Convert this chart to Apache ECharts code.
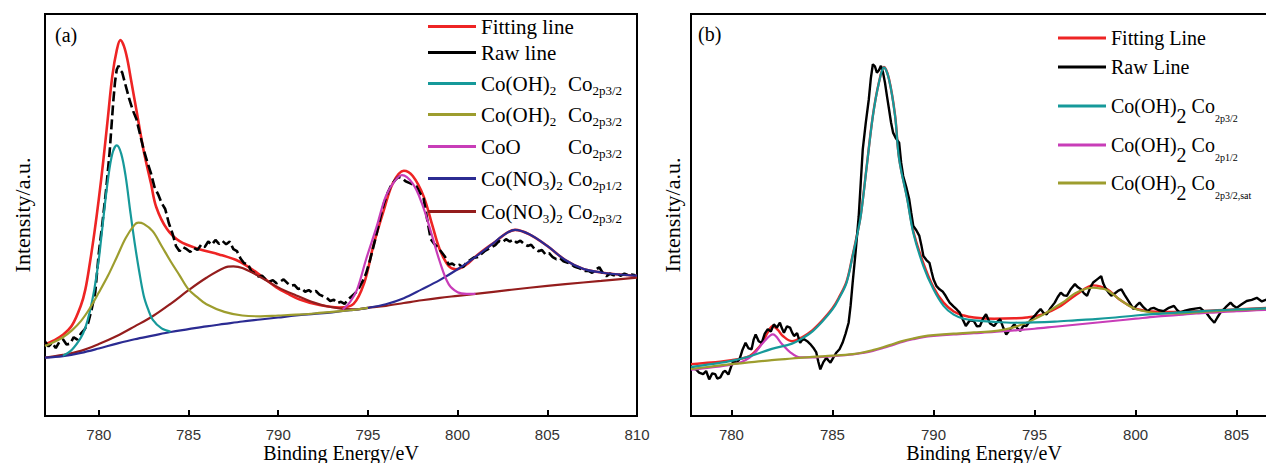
<!DOCTYPE html>
<html><head><meta charset="utf-8">
<script src="https://cdn.jsdelivr.net/npm/echarts@6.0.0/dist/echarts.min.js"></script>
<style>html,body{margin:0;padding:0;background:#fff}#c{width:1266px;height:463px}</style>
</head><body><div id="c"></div>
<script>
// ---------- tick labels ----------
const ticksA = [780, 785, 790, 795, 800, 805, 810];
const ticksB = [780, 785, 790, 795, 800, 805];

// ---------- panel (a) : [binding energy eV, intensity a.u.] ----------
const fitA = [[777,17.8],[777.5,18.8],[778,20.2],[778.5,22.5],[779,27.5],[779.25,31.5],[779.5,38.0],[779.75,45.5],[780,54.0],[780.25,63.5],[780.5,74.0],[780.75,84.5],[781,91.0],[781.2,93.5],[781.4,92.0],[781.6,88.5],[781.8,83.5],[782.1,76.0],[782.5,66.0],[782.9,58.0],[783.2,52.0],[783.8,46.5],[784.5,43.5],[785.6,41.5],[786.7,40.2],[787.8,38.5],[788.6,36.3],[789.0,35.0],[789.9,32.0],[790.5,30.5],[791.2,29.0],[792.3,27.6],[793.4,27.0],[794.2,27.9],[794.8,33.2],[795.3,42.3],[795.9,51.4],[796.4,58.0],[797.0,61.0],[797.5,59.7],[798.1,54.7],[798.6,47.3],[799.0,41.5],[799.5,37.3],[799.9,36.5],[800.5,37.7],[801.0,39.7],[802.0,43.0],[803.2,46.3],[804,45.2],[805,42.3],[806,38.8],[807,36.6],[808,35.7],[809,35.2],[810,34.9]];
const rawA = [[777.0,18.5],[777.2,17.3],[777.4,18.2],[777.6,16.9],[777.8,18.4],[778.0,19.1],[778.2,17.8],[778.4,18.0],[778.6,19.6],[778.8,19.0],[779.0,20.5],[779.2,21.5],[779.4,23.0],[779.6,26.5],[779.8,30.7],[780.0,40.6],[780.2,48.0],[780.4,56.0],[780.6,65.5],[780.8,77.9],[780.9,83.0],[781.0,86.2],[781.1,87.1],[781.2,86.0],[781.3,85.5],[781.4,83.8],[781.7,78.8],[781.9,76.0],[782.1,73.8],[782.3,70.0],[782.5,66.3],[782.7,63.2],[782.9,60.5],[783.1,57.0],[783.3,55.2],[783.5,53.0],[783.7,51.5],[783.9,48.0],[784.1,45.5],[784.3,42.3],[784.5,41.0],[784.7,42.0],[784.9,41.5],[785.1,40.8],[785.3,41.8],[785.5,41.3],[785.7,42.6],[785.9,42.0],[786.1,43.4],[786.3,42.6],[786.5,43.8],[786.7,42.8],[786.9,43.5],[787.1,42.7],[787.3,43.4],[787.5,41.5],[787.7,41.0],[787.9,39.2],[788.1,38.0],[788.3,37.9],[788.5,36.0],[788.7,35.5],[788.9,34.7],[789.1,34.9],[789.3,34.0],[789.5,33.4],[789.7,33.8],[789.9,33.0],[790.1,33.4],[790.3,34.0],[790.5,33.1],[790.7,32.4],[790.9,32.6],[791.1,31.6],[791.3,31.8],[791.5,30.9],[791.7,31.3],[791.9,30.7],[792.1,31.1],[792.3,30.2],[792.5,29.8],[792.7,29.4],[792.9,28.6],[793.1,28.9],[793.3,28.1],[793.5,28.4],[793.7,27.9],[793.9,29.0],[794.1,29.8],[794.3,30.6],[794.5,31.8],[794.7,33.5],[794.9,35.5],[795.1,38.5],[795.3,42.0],[795.5,45.6],[795.7,49.5],[795.9,53.0],[796.1,55.5],[796.3,57.4],[796.5,58.6],[796.7,59.5],[796.9,59.2],[797.1,58.4],[797.3,58.0],[797.5,57.6],[797.7,57.2],[797.9,55.5],[798.1,54.2],[798.3,49.0],[798.5,44.0],[798.7,42.8],[798.9,41.9],[799.1,40.8],[799.3,39.6],[799.5,37.7],[799.7,37.9],[799.9,37.3],[800.1,37.6],[800.3,37.0],[800.5,38.2],[800.7,38.8],[800.9,39.4],[801.1,39.5],[801.3,40.2],[801.5,41.0],[801.7,41.5],[801.9,42.0],[802.1,42.5],[802.3,43.5],[802.5,43.2],[802.7,44.0],[802.9,43.4],[803.1,43.9],[803.3,43.1],[803.5,43.6],[803.7,42.8],[803.9,42.3],[804.1,42.6],[804.3,41.5],[804.5,41.0],[804.7,41.3],[804.9,40.2],[805.1,40.5],[805.3,39.5],[805.5,39.0],[805.7,39.3],[805.9,38.5],[806.1,38.2],[806.3,37.9],[806.5,37.2],[806.7,36.9],[806.9,36.5],[807.1,36.1],[807.3,36.1],[807.5,35.6],[807.7,36.4],[807.9,37.0],[808.1,35.5],[808.3,34.8],[808.5,35.4],[808.7,35.0],[808.9,35.3],[809.1,34.9],[809.3,35.4],[809.5,35.0],[809.7,35.2],[809.9,35.0]];
const ohA1 = [[778,15.0],[778.5,16.5],[779,19.5],[779.25,22.0],[779.5,26.0],[779.75,31.5],[780,39.0],[780.25,49.0],[780.5,58.5],[780.75,65.2],[781,67.3],[781.25,65.2],[781.5,59.5],[781.75,51.0],[782,43.0],[782.25,36.0],[782.5,30.0],[782.75,26.5],[783,24.0],[783.5,21.8],[784,21.0]];
const ohA2 = [[777,17.4],[777.5,18.4],[778,19.6],[778.5,21.3],[779,23.6],[779.5,26.8],[780,30.7],[780.5,34.8],[781,39.5],[781.5,44.3],[782,47.6],[782.2,48.1],[782.5,47.8],[783,46.0],[783.5,42.3],[784,38.5],[784.5,35.0],[785,31.5],[785.5,29.5],[786,27.8],[787,25.9],[788,25.0],[789,24.8],[790,25.0],[791,25.2],[792,25.5],[793,25.9],[794,26.3],[795,26.9]];
const cooA = [[793.6,26.5],[794,28.3],[794.4,31.5],[794.9,39.0],[795.5,47.3],[796,54.7],[796.5,58.5],[796.9,59.9],[797.5,57.8],[798,53.0],[798.5,46.0],[799,38.5],[799.5,32.8],[800,30.8],[800.5,30.4],[801,30.4]];
const no3A1 = [[777,14.5],[778,14.9],[779,15.7],[780,16.8],[781,18.0],[782,19.1],[783,20.0],[784,20.9],[785,21.6],[786,22.3],[787,22.9],[788,23.5],[789,24.0],[790,24.5],[791,25.0],[792,25.4],[793,25.8],[794,26.3],[795,26.9],[796,27.8],[797,29.3],[798,31.5],[799,33.8],[800,36.5],[801,39.6],[802,43.0],[802.5,44.8],[803.2,46.3],[804,45.2],[805,42.3],[806,38.8],[807,36.6],[808,35.7],[809,35.2],[810,34.9]];
const no3A2 = [[777,14.5],[778,15.2],[779,16.2],[780,17.9],[781,19.9],[782,22.3],[783,24.8],[784,27.9],[785,31.3],[786,34.4],[787,36.9],[787.5,37.2],[788,36.8],[789,34.6],[790,32.0],[791,30.0],[792,28.2],[792.7,27.3],[793.5,26.7],[794.2,26.5],[795,26.9],[796,27.4],[797,28.1],[798,28.8],[799,29.4],[800,29.9],[802,30.9],[804,31.9],[806,32.8],[808,33.6],[810,34.4]];

// ---------- panel (b) ----------
const fitB = [[778,12.9],[779,13.3],[780,13.9],[780.5,14.3],[780.9,14.9],[781.2,16.2],[781.5,18.0],[781.8,20.8],[782.05,22.4],[782.3,21.4],[782.55,19.9],[783,18.6],[783.5,19.6],[784,21.3],[784.5,23.8],[785,26.8],[785.3,29.3],[785.7,33.5],[786,40.0],[786.2,44.7],[786.4,49.9],[786.7,62.3],[787,74.7],[787.3,83.0],[787.55,86.8],[787.8,83.8],[788.1,74.8],[788.3,64.1],[788.7,54.2],[789,46.0],[789.5,38.0],[790,32.0],[790.5,28.2],[791,26.0],[791.5,25.0],[792,24.5],[793,24.2],[794,24.3],[794.6,24.5],[795.4,25.3],[796.3,27.4],[797.1,30.3],[797.9,32.5],[798.6,31.5],[799.2,29.0],[799.9,26.9],[800.6,26.1],[801.6,25.9],[803.2,26.1],[804.9,26.5],[806.5,26.9],[807,27.0]];
const rawB = [[778.0,12.0],[778.25,11.6],[778.4,10.8],[778.6,10.4],[778.75,11.2],[778.9,9.1],[779.05,10.6],[779.2,10.4],[779.3,9.3],[779.45,9.6],[779.6,11.0],[779.7,11.2],[779.85,10.3],[780.0,12.5],[780.1,13.7],[780.25,13.2],[780.4,14.1],[780.55,16.5],[780.7,18.2],[780.85,16.8],[781.0,16.6],[781.1,19.0],[781.2,20.3],[781.35,18.6],[781.5,18.2],[781.65,20.5],[781.8,21.6],[781.95,21.0],[782.1,22.8],[782.25,22.0],[782.4,23.2],[782.5,21.8],[782.6,20.7],[782.75,22.3],[782.9,22.0],[783.0,20.8],[783.1,19.9],[783.25,20.6],[783.4,18.2],[783.5,18.9],[783.6,19.1],[783.75,18.6],[783.9,17.9],[784.05,17.0],[784.2,15.8],[784.3,13.5],[784.4,11.6],[784.55,13.4],[784.7,14.5],[784.8,13.8],[784.9,13.3],[785.05,14.6],[785.2,15.8],[785.35,16.6],[785.5,18.2],[785.65,20.5],[785.8,23.2],[785.9,27.5],[786.0,33.2],[786.15,41.0],[786.3,49.7],[786.4,58.0],[786.5,66.3],[786.65,73.0],[786.8,78.8],[786.9,84.0],[787.0,87.5],[787.1,87.0],[787.2,85.4],[787.3,86.0],[787.4,87.1],[787.5,85.5],[787.6,82.9],[787.7,79.5],[787.8,76.3],[787.9,73.0],[788.0,70.5],[788.15,69.0],[788.3,68.0],[788.4,63.0],[788.5,59.7],[788.65,57.0],[788.8,53.9],[788.9,50.5],[789.0,47.3],[789.15,46.2],[789.3,44.8],[789.4,42.5],[789.5,39.8],[789.65,38.8],[789.8,38.1],[789.9,36.0],[790.0,34.0],[790.15,32.3],[790.3,31.5],[790.45,31.0],[790.6,29.9],[790.7,29.0],[790.8,28.2],[791.0,27.2],[791.15,26.5],[791.3,25.7],[791.45,24.0],[791.6,22.4],[791.8,23.8],[792.0,23.6],[792.15,22.3],[792.3,22.4],[792.45,24.2],[792.6,25.3],[792.8,23.0],[793.0,22.4],[793.15,23.4],[793.3,24.1],[793.45,22.0],[793.6,20.3],[793.8,21.6],[794.0,22.8],[794.15,21.8],[794.3,21.2],[794.45,22.5],[794.6,22.4],[794.8,23.8],[795.0,24.9],[795.15,25.8],[795.3,26.6],[795.45,25.6],[795.6,25.3],[795.8,26.9],[796.0,28.2],[796.15,29.6],[796.3,30.7],[796.45,30.0],[796.6,29.9],[796.8,31.6],[797.0,32.8],[797.15,32.0],[797.3,31.5],[797.45,30.5],[797.6,29.9],[797.75,31.8],[797.9,33.2],[798.1,34.0],[798.3,34.8],[798.4,33.0],[798.5,31.9],[798.65,30.8],[798.8,29.9],[799.0,30.6],[799.15,31.2],[799.3,31.5],[799.45,30.2],[799.6,29.0],[799.75,27.8],[799.9,26.6],[800.05,27.5],[800.2,28.2],[800.4,27.0],[800.6,26.1],[800.75,26.7],[800.9,26.9],[801.15,26.3],[801.4,26.1],[801.65,26.9],[801.9,27.4],[802.05,26.4],[802.2,25.7],[802.45,26.2],[802.7,26.5],[802.95,26.7],[803.2,26.9],[803.35,26.2],[803.5,25.7],[803.7,24.3],[803.9,23.2],[804.05,24.5],[804.2,25.7],[804.45,27.0],[804.7,28.2],[804.85,27.4],[805.0,26.9],[805.25,27.8],[805.5,28.6],[805.75,28.9],[806.0,29.4],[806.25,28.5],[806.5,29.0],[806.7,29.8],[806.9,29.3]];
const ohB32 = [[778,12.2],[779,12.9],[780,13.7],[781,15.0],[782,16.7],[783,18.0],[783.5,19.3],[784,21.0],[784.5,23.5],[785,26.5],[785.3,29.0],[785.7,33.2],[786,39.8],[786.2,44.5],[786.4,49.7],[786.7,62.2],[787,74.6],[787.3,82.9],[787.55,86.7],[787.8,83.7],[788.1,74.6],[788.3,63.9],[788.7,53.9],[789,45.6],[789.5,37.3],[790,31.5],[790.5,27.4],[791,25.2],[791.5,24.2],[792,23.8],[793,23.4],[794,23.2],[795,23.3],[796,23.5],[797,23.8],[798,24.1],[799,24.5],[800,25.0],[801,25.4],[802,25.7],[803,26.0],[804,26.3],[805,26.5],[806,26.7],[807,26.9]];
const ohB12 = [[778,11.5],[779,12.1],[780,12.8],[780.5,13.4],[780.9,14.5],[781.2,15.9],[781.6,18.4],[782.05,20.3],[782.5,17.9],[782.9,15.9],[783.4,14.6],[784,14.6],[785,14.9],[786,15.3],[786.5,15.7],[787,16.2],[787.5,16.9],[788,17.7],[788.5,18.5],[789,19.1],[789.5,19.6],[790,19.9],[791,20.3],[792,20.6],[793,20.9],[794,21.3],[795,21.7],[796,22.2],[797,22.7],[798,23.2],[799,23.7],[800,24.2],[801,24.7],[802,25.1],[803,25.5],[804,25.8],[805,26.1],[806,26.3],[807,26.5]];
const ohBsat = [[778,11.7],[779,12.3],[780,12.9],[781,13.4],[782,13.9],[783,14.3],[784,14.7],[785,15.0],[786,15.4],[786.5,15.8],[787,16.4],[787.5,17.1],[788,17.9],[788.5,18.7],[789,19.3],[789.5,19.8],[790,20.1],[791,20.5],[792,20.8],[793,21.1],[793.5,21.5],[794,22.1],[794.5,23.0],[795,24.1],[795.5,25.4],[796,27.0],[796.5,28.6],[797,30.5],[797.5,31.6],[797.9,31.9],[798.3,31.7],[798.6,31.3],[799,29.8],[799.5,28.0],[800,26.6],[800.5,26.0],[801,25.6],[801.6,25.5],[802,25.5],[803,25.8],[804,26.1],[805,26.4],[806,26.6],[807,26.8]];

// ---------- styling ----------
const C = {red:'#ee2424', black:'#000', teal:'#16999a', olive:'#9d9d2e', mag:'#c83db8', blue:'#2b2b92', brown:'#941d1d'};
const SERIF = '"Liberation Serif", "Times New Roman", serif';
const cv = document.createElement('canvas').getContext('2d');
function tw(t, size){ cv.font = size + 'px ' + SERIF; return cv.measureText(t).width; }
const FA = 21, SA = 13;
const colA = 87;
const gOH = Math.max(3, colA - tw('Co(OH)',FA) - tw('2',SA));
const gCoO = Math.max(3, colA - tw('CoO',FA));
const gNO = Math.max(3, colA - tw('Co(NO',FA) - tw('3',SA) - tw(')',FA) - tw('2',SA));

const richA = {
  m:{fontSize:FA, fontFamily:SERIF, lineHeight:24, color:'#000'},
  s:{fontSize:SA, fontFamily:SERIF, lineHeight:2, padding:[14,0,0,0], color:'#000'},
  g1:{fontSize:FA, fontFamily:SERIF, lineHeight:24, width:gOH},
  g2:{fontSize:FA, fontFamily:SERIF, lineHeight:24, width:gCoO},
  g3:{fontSize:FA, fontFamily:SERIF, lineHeight:24, width:gNO}
};
const richB = {
  m:{fontSize:20, fontFamily:SERIF, lineHeight:28, color:'#000'},
  d:{fontSize:20, fontFamily:SERIF, lineHeight:2, padding:[20,0,0,0], color:'#000'},
  t:{fontSize:10, fontFamily:SERIF, lineHeight:2, padding:[24,0,0,0], color:'#000'}
};
// [series name, legend label, row centre y, half height]
const legendA = [
  ['aFit','{m|Fitting line}',28,12],
  ['aRaw','{m|Raw line}',54,12],
  ['aOH1','{m|Co(OH)}{s|2}{g1|\u00a0}{m|Co}{s|2p3/2}',82,12],
  ['aOH2','{m|Co(OH)}{s|2}{g1|\u00a0}{m|Co}{s|2p3/2}',113,12],
  ['aCoO','{m|CoO}{g2|\u00a0}{m|Co}{s|2p3/2}',145,12],
  ['aN1','{m|Co(NO}{s|3}{m|)}{s|2}{g3|\u00a0}{m|Co}{s|2p1/2}',177,12],
  ['aN2','{m|Co(NO}{s|3}{m|)}{s|2}{g3|\u00a0}{m|Co}{s|2p3/2}',210,12]
];
const legendB = [
  ['bFit','{m|Fitting Line}',42,14],
  ['bRaw','{m|Raw Line}',71,14],
  ['bOH1','{m|Co(OH)}{d|2}{m| Co}{t|2p3/2}',100,14],
  ['bOH2','{m|Co(OH)}{d|2}{m| Co}{t|2p1/2}',139,14],
  ['bSat','{m|Co(OH)}{d|2}{m| Co}{t|2p3/2,sat}',177,14]
];
function mkLegend(arr, left, rich){
  return arr.map(([n, txt, cy, hh]) => ({
    data:[n], left:left, top:cy-hh, padding:0, itemGap:0, icon:'rect', itemWidth:48, itemHeight:3,
    selectedMode:false, formatter:() => txt, textStyle:{rich:rich, fontFamily:SERIF, fontSize:20, color:'#000'}
  }));
}

function ln(name, data, color, gi, opt){
  return Object.assign({name, type:'line', data, xAxisIndex:gi, yAxisIndex:gi, showSymbol:false, symbol:'none',
    smooth:0.35, lineStyle:{color, width:2.2}, itemStyle:{color}, emphasis:{disabled:true}, silent:true}, opt||{});
}

const xCommon = (min, max, ticks) => ({
  type:'value', min, max, name:'Binding Energy/eV', nameLocation:'middle', nameGap:27, nameMoveOverlap:false,
  nameTextStyle:{fontFamily:SERIF, fontSize:20, color:'#000'},
  axisLine:{show:true, lineStyle:{color:'#000', width:2}},
  axisTick:{show:true, inside:true, length:6, customValues:ticks, lineStyle:{color:'#000', width:2}},
  axisLabel:{customValues:ticks, fontFamily:'"Liberation Sans", Arial, sans-serif', fontSize:15, color:'#333', margin:11},
  splitLine:{show:false}
});
const yCommon = (gap) => ({
  type:'value', min:0, max:100, name:'Intensity/a.u.', nameLocation:'middle', nameGap:gap, nameMoveOverlap:false,
  nameTextStyle:{fontFamily:SERIF, fontSize:22, color:'#000'},
  axisLine:{show:false}, axisTick:{show:false}, axisLabel:{show:false}, splitLine:{show:false}
});

const chart = echarts.init(document.getElementById('c'), null, {renderer:'svg', width:1266, height:463});
chart.setOption({
  animation:false,
  backgroundColor:'#fff',
  grid:[
    {left:45, top:14, width:592, height:402, show:true, borderColor:'#000', borderWidth:2, outerBoundsMode:'none', containLabel:false},
    {left:691, top:14, width:586, height:402, show:true, borderColor:'#000', borderWidth:2, outerBoundsMode:'none', containLabel:false}
  ],
  xAxis:[Object.assign({gridIndex:0}, xCommon(777, 810, ticksA)), Object.assign({gridIndex:1}, xCommon(778, 807, ticksB))],
  yAxis:[Object.assign({gridIndex:0}, yCommon(12)), Object.assign({gridIndex:1}, yCommon(8))],
  legend: mkLegend(legendA, 428, richA).concat(mkLegend(legendB, 1058, richB)),
  graphic:[
    {type:'text', left:55, top:25, style:{text:'(a)', font:'20px ' + SERIF, fill:'#000'}},
    {type:'text', left:698, top:24, style:{text:'(b)', font:'20px ' + SERIF, fill:'#000'}}
  ],
  series:[
    ln('aFit', fitA, C.red, 0, {lineStyle:{color:C.red, width:2.6}}),
    ln('aRaw', rawA, C.black, 0, {smooth:false, lineStyle:{color:C.black, width:2.6, type:[10,4]}}),
    ln('aN2', no3A2, C.brown, 0),
    ln('aN1', no3A1, C.blue, 0),
    ln('aOH1', ohA1, C.teal, 0),
    ln('aOH2', ohA2, C.olive, 0),
    ln('aCoO', cooA, C.mag, 0),
    ln('bFit', fitB, C.red, 1, {lineStyle:{color:C.red, width:2.4}}),
    ln('bRaw', rawB, C.black, 1, {smooth:false, lineStyle:{color:C.black, width:2.4}}),
    ln('bOH2', ohB12, C.mag, 1),
    ln('bSat', ohBsat, C.olive, 1),
    ln('bOH1', ohB32, C.teal, 1)
  ]
});
</script>
</body></html>
